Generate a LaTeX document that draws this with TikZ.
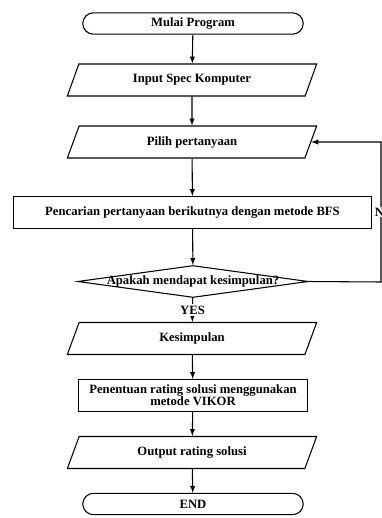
\documentclass[tikz,border=0pt]{standalone}
\usepackage{fontspec}
\setmainfont{Liberation Serif}
\usetikzlibrary{shapes.geometric, shapes.misc}

\begin{document}
\begin{tikzpicture}[x=0.75pt, y=-0.75pt, line width=0.8pt,
    every node/.style={font=\bfseries\fontsize{9.5}{9}\selectfont},
    terminal/.style={draw, rounded rectangle, minimum width=172pt, minimum height=16pt},
    io/.style={draw, trapezium, trapezium left angle=60, trapezium right angle=120, trapezium stretches body, minimum width=187pt, minimum height=24pt},
    process/.style={draw, rectangle, minimum height=24pt},
    decision/.style={draw, diamond, minimum width=173pt, minimum height=24pt, inner sep=0pt},
    arrow/.style={-latex}]

        \useasboundingbox (0,0) rectangle (382,518);
        \def\cx{193}  % middle of the chart

        % Start
        \node[terminal] (start) at (\cx,23.5) {Mulai Program};

        % Input and question
        \node[io] (input) at (192,80) {Input Spec Komputer};
        \node[io] (choose) at (192,142) {Pilih pertanyaan};

        % BFS search
        \node[process, minimum width=269pt] (search) at (192.5,212.5) {Pencarian pertanyaan berikutnya dengan metode BFS};

        % Decision
        \node[decision] (ask) at (\cx,281.5) {\makebox[0pt]{Apakah mendapat kesimpulan?}};

        % Result
        \node[io] (result) at (192,338.5) {Kesimpulan};
        \node[process, minimum width=172pt, align=center] (vikor) at (\cx,395.5) {Penentuan rating solusi menggunakan\\metode VIKOR};
        \node[io] (output) at (192,452.5) {Output rating solusi};

        % End
        \node[terminal] (finish) at (\cx,504) {END};

        % Arrows down the chart
        \draw[arrow] (start) -- (input);
        \draw[arrow] (input) -- (choose);
        \draw[arrow] (choose) -- (search);
        \draw[arrow] (search) -- (ask);
        \draw[arrow] (ask) -- node[pos=0.5, fill=white, inner sep=1pt] (yes) {YES} (result);
        \draw[arrow] (result) -- (vikor);
        \draw[arrow] (vikor) -- (output);
        \draw[arrow] (output) -- (finish);

        % Loop back when no conclusion
        \coordinate (back) at (381,282);
        \draw[arrow] (ask.east) -- (back) |- (choose.east);
        \node[fill=white, inner sep=1pt, anchor=west] (no) at (373,212) {N};

    \end{tikzpicture}
\end{document}
